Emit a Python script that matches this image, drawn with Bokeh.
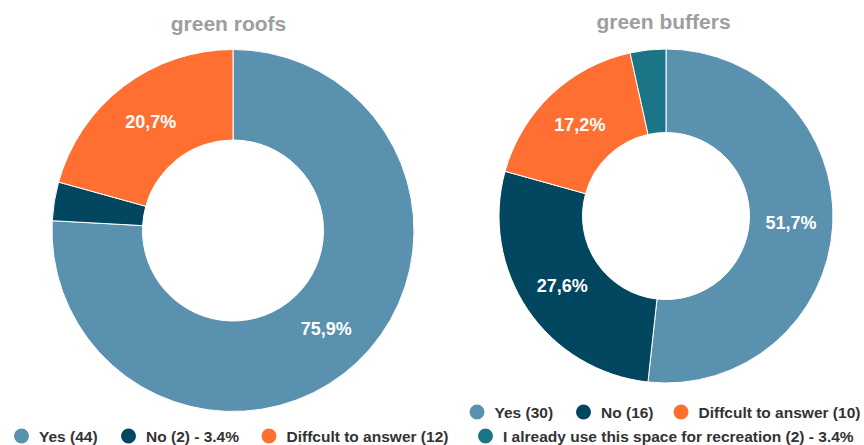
import math
from bokeh.plotting import figure
from bokeh.models import Range1d, ColumnDataSource
from bokeh.core.properties import value
from bokeh.embed import file_html
from bokeh.resources import INLINE

# ---------------- data ----------------
titles = ["green roofs", "green buffers"]

roofs_categories = ["Yes", "No", "Diffcult to answer"]
roofs_values = [44, 2, 12]
roofs_pct_labels = ["75,9%", "", "20,7%"]
roofs_legend = ["Yes (44)", "No (2) - 3.4%", "Diffcult to answer (12)"]

buffers_categories = ["Yes", "No", "Diffcult to answer", "I already use this space for recreation"]
buffers_values = [30, 16, 10, 2]
buffers_pct_labels = ["51,7%", "27,6%", "17,2%", ""]
buffers_legend = ["Yes (30)", "No (16)", "Diffcult to answer (10)",
                  "I already use this space for recreation (2) - 3.4%"]

colors = ["#5A91AF", "#02465F", "#FF6F31", "#1C7586"]

# ---------------- layout (picture pixels) ----------------
W, H = 864, 445
TOP = H  # data y = TOP - picture y

charts = [
    dict(values=roofs_values, labels=roofs_pct_labels, legend=roofs_legend, title=titles[0],
         cx=232.5, cy=230.0, r_out=181.0, r_in=90.5, title_x=228.0, title_y=22.5,
         legend_rows=[(435.5, [21.0, 128.0, 268.5])]),
    dict(values=buffers_values, labels=buffers_pct_labels, legend=buffers_legend, title=titles[1],
         cx=665.5, cy=215.5, r_out=167.0, r_in=83.5, title_x=663.0, title_y=21.0,
         legend_rows=[(411.5, [476.5, 583.0, 680.5]), (435.5, [485.0])]),
]
LEGEND_TEXT_GAP = 17.5

p = figure(width=W, height=H, output_backend="svg", toolbar_location=None,
           x_range=Range1d(0, W), y_range=Range1d(0, H),
           min_border=0, background_fill_color="white", border_fill_color="white")
p.axis.visible = False
p.grid.visible = False
p.outline_line_color = None

label_font = value("Liberation Sans")

for ch in charts:
    vals = ch["values"]
    total = float(sum(vals))
    cx, cy = ch["cx"], TOP - ch["cy"]
    starts, ends, mids = [], [], []
    cum = 0.0
    for v in vals:
        a0 = math.pi / 2 - 2 * math.pi * cum / total
        cum += v
        a1 = math.pi / 2 - 2 * math.pi * cum / total
        starts.append(a0)
        ends.append(a1)
        mids.append((a0 + a1) / 2)
    n = len(vals)
    src = ColumnDataSource(dict(x=[cx] * n, y=[cy] * n, start=starts, end=ends,
                                color=colors[:n]))
    p.annular_wedge(x="x", y="y", inner_radius=ch["r_in"], outer_radius=ch["r_out"],
                    start_angle="start", end_angle="end", direction="clock",
                    fill_color="color", line_color="white", line_width=1, source=src)

    # percentage labels
    rm = (ch["r_in"] + ch["r_out"]) / 2
    lx, ly, lt = [], [], []
    for m, t in zip(mids, ch["labels"]):
        if t:
            lx.append(cx + rm * math.cos(m))
            ly.append(cy + rm * math.sin(m))
            lt.append(t)
    p.text(x=lx, y=ly, text=lt, text_align="center", text_baseline="middle",
           text_color="white", text_font=label_font, text_font_size="18px",
           text_font_style="bold")

    # title
    p.text(x=[ch["title_x"]], y=[TOP - ch["title_y"]], text=[ch["title"]],
           text_align="center", text_baseline="middle", text_color="#9E9E9E",
           text_font=label_font, text_font_size="21px", text_font_style="bold")

    # legend
    idx = 0
    for row_y, xs in ch["legend_rows"]:
        for x in xs:
            p.scatter(x=[x], y=[TOP - row_y], size=15, marker="circle",
                      fill_color=colors[idx], line_color=None)
            p.text(x=[x + LEGEND_TEXT_GAP], y=[TOP - row_y], text=[ch["legend"][idx]],
                   text_align="left", text_baseline="middle", text_color="#333333",
                   text_font=label_font, text_font_size="15.5px", text_font_style="bold")
            idx += 1

open("out.html", "w").write(file_html(p, INLINE))
